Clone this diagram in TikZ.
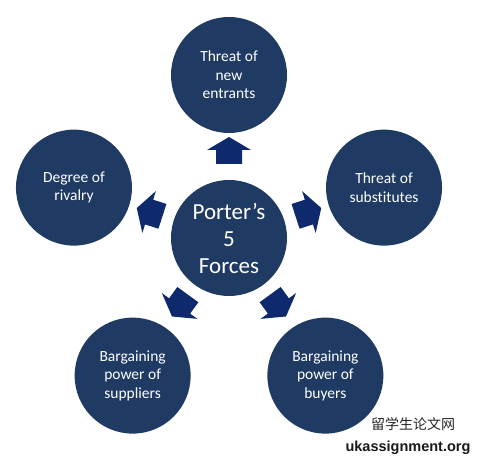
\documentclass[tikz,border=0pt]{standalone}
\usepackage{fontspec}
\usetikzlibrary{calc}
\setmainfont{Carlito}[RawFeature=-liga]
\newfontfamily\cjk{Noto Sans CJK SC}
\newfontfamily\wmfont{Liberation Sans}
\definecolor{circblue}{HTML}{1F3A63}
\definecolor{arrblue}{HTML}{0E2A6C}
\begin{document}
\begin{tikzpicture}[x=1pt,y=1pt,
  force/.style={circle,fill=circblue,minimum size=116pt,inner sep=0pt,text=white,
    align=center,font=\fontsize{15.5}{18.5}\selectfont},
  core/.style={force,font=\fontsize{23}{27}\selectfont}]
\useasboundingbox[fill=white] (0,0) rectangle (480,468);
\coordinate (C) at (229,230);
\node[core] (center) at (C) {Porter’s\\5\\Forces};
\node[force] (top) at ($(C)+(90:163)$) {Threat of\\new\\entrants};
\node[force] (left) at ($(C)+(162:163)$) {Degree of\\rivalry};
\node[force] (right) at ($(C)+(18:163)$) {Threat of\\substitutes};
\node[force] (bl) at ($(C)+(235:168)$) {Bargaining\\power of\\suppliers};
\node[force] (br) at ($(C)+(305:168)$) {Bargaining\\power of\\buyers};
\foreach \a/\d in {90/86,162/82,18/82,234/82,306/82}{
  \begin{scope}[shift={($(C)+(\a:\d)$)},rotate=\a]
    \fill[arrblue] (-12,-13) -- (2,-13) -- (2,-22) -- (15,0) -- (2,22) -- (2,13) -- (-12,13) -- cycle;
  \end{scope}
}
\node[text=black!85,font=\cjk\fontsize{14}{16}\selectfont] (wm1) at (413,44) {留学生论文网};
\node[text=black!90,font=\wmfont\bfseries\fontsize{14.5}{16}\selectfont] (wm2) at (408,20) {ukassignment.org};
\end{tikzpicture}
\end{document}
